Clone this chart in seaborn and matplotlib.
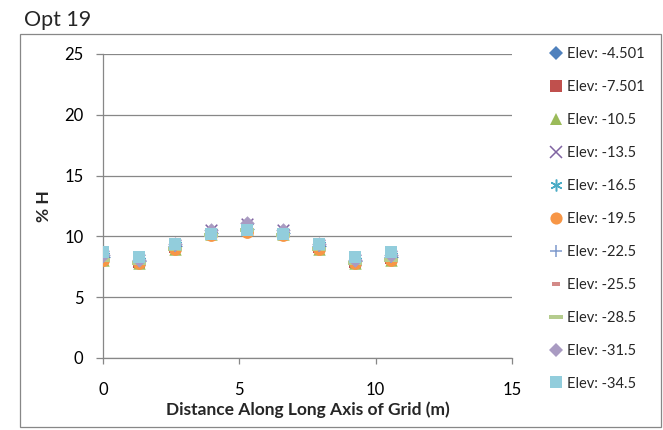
import numpy as np
import pandas as pd
import matplotlib
matplotlib.use("Agg")
import matplotlib.pyplot as plt
import seaborn as sns
from matplotlib.patches import Rectangle
from matplotlib.lines import Line2D

# ---- data ----
distance = [0, 1.32, 2.64, 3.96, 5.28, 6.6, 7.92, 9.24, 10.56]
elev_labels = ["Elev: -4.501", "Elev: -7.501", "Elev: -10.5", "Elev: -13.5",
               "Elev: -16.5", "Elev: -19.5", "Elev: -22.5", "Elev: -25.5",
               "Elev: -28.5", "Elev: -31.5", "Elev: -34.5"]
e_4_501 = [8.3, 8.0, 9.2, 10.3, 10.6, 10.3, 9.2, 8.0, 8.3]
e_7_501 = [8.2, 7.9, 9.1, 10.2, 10.5, 10.2, 9.1, 7.9, 8.2]
e_10_5 = [8.1, 7.8, 9.0, 10.2, 10.6, 10.2, 9.0, 7.8, 8.1]
e_13_5 = [8.4, 8.1, 9.3, 10.5, 11.0, 10.5, 9.3, 8.1, 8.4]
e_16_5 = [8.4, 8.0, 9.3, 10.4, 10.8, 10.4, 9.3, 8.0, 8.4]
e_19_5 = [8.1, 7.8, 9.0, 10.1, 10.4, 10.1, 9.0, 7.8, 8.1]
e_22_5 = [8.3, 8.0, 9.2, 10.3, 10.7, 10.3, 9.2, 8.0, 8.3]
e_25_5 = [8.2, 7.9, 9.1, 10.2, 10.6, 10.2, 9.1, 7.9, 8.2]
e_28_5 = [8.1, 7.8, 9.0, 10.1, 10.5, 10.1, 9.0, 7.8, 8.1]
e_31_5 = [8.5, 8.1, 9.4, 10.5, 11.1, 10.5, 9.4, 8.1, 8.5]
e_34_5 = [8.7, 8.3, 9.4, 10.2, 10.5, 10.2, 9.4, 8.3, 8.7]
series_values = [e_4_501, e_7_501, e_10_5, e_13_5, e_16_5, e_19_5,
                 e_22_5, e_25_5, e_28_5, e_31_5, e_34_5]
x_ticks = [0, 5, 10, 15]
y_ticks = [0, 5, 10, 15, 20, 25]

# ---- styles ----
colors = ["#4F81BD", "#C0504D", "#9BBB59", "#8064A2", "#4BACC6", "#F79646",
          "#7E9ACD", "#D38A88", "#B5CC8E", "#A99BC2", "#92CDDC"]
short_dash = [(-1, -0.4), (1, -0.4), (1, 0.4), (-1, 0.4), (-1, -0.4)]
long_dash = [(-1, -0.25), (1, -0.25), (1, 0.25), (-1, 0.25), (-1, -0.25)]
markers = ["D", "s", "^", "x", (6, 2, 0), "o", "+", short_dash, long_dash, "D", "s"]
sizes = [55, 80, 80, 70, 80, 85, 80, 45, 110, 55, 85]
filled = [True, True, True, False, False, True, False, True, True, True, True]

sns.set_theme(style="white")
plt.rcParams["font.family"] = ["Lato", "DejaVu Sans"]

fig = plt.figure(figsize=(6.63, 4.30), dpi=100)
ax = fig.add_axes([103 / 663, 1 - 358 / 430, (512 - 103) / 663, (358 - 54) / 430])

rows = []
for lab, vals in zip(elev_labels, series_values):
    for xv, yv in zip(distance, vals):
        rows.append({"Elev": lab, "x": xv, "y": yv})
df = pd.DataFrame(rows)

handles = []
for i, lab in enumerate(elev_labels):
    sub = df[df["Elev"] == lab]
    if filled[i]:
        sns.scatterplot(data=sub, x="x", y="y", ax=ax, marker=markers[i],
                        color=colors[i], s=sizes[i], linewidth=0, zorder=3 + i,
                        legend=False)
    else:
        sns.scatterplot(data=sub, x="x", y="y", ax=ax, marker=markers[i],
                        color=colors[i], s=sizes[i], linewidth=1.1, zorder=3 + i,
                        legend=False)
    handles.append(Line2D([], [], linestyle="none", marker=markers[i],
                          color=colors[i], markersize=np.sqrt(sizes[i]) * 0.95,
                          markeredgewidth=(0 if filled[i] else 1.1),
                          markerfacecolor=colors[i], markeredgecolor=colors[i]))

ax.set_xlim(0, 15)
ax.set_ylim(0, 25)
ax.set_xticks(x_ticks)
ax.set_yticks(y_ticks)
ax.set_xticklabels([str(t) for t in x_ticks])
ax.set_yticklabels([str(t) for t in y_ticks])
ax.yaxis.grid(True, color="#878787", linewidth=0.9)
ax.xaxis.grid(False)
for side in ["top", "right"]:
    ax.spines[side].set_visible(False)
for side in ["left", "bottom"]:
    ax.spines[side].set_color("#878787")
    ax.spines[side].set_linewidth(0.9)
ax.tick_params(axis="y", direction="out", length=5, width=0.9, color="#878787",
               pad=9, labelsize=12, labelcolor="#000000", left=True)
ax.tick_params(axis="x", direction="out", length=4, width=0.9, color="#878787",
               pad=13, labelsize=12, labelcolor="#000000", bottom=True)
ax.set_xlabel("Distance Along Long Axis of Grid (m)", fontsize=12.5,
              fontweight="bold", labelpad=3)
ax.set_ylabel("% H", fontsize=12.5, fontweight="bold", labelpad=9)

leg = fig.legend(handles, elev_labels, loc="upper left",
                 bbox_to_anchor=(549 / 663, 1 - 47 / 430), frameon=False,
                 fontsize=10.5, labelspacing=1.30, handlelength=0.9,
                 handletextpad=0.35, borderpad=0, borderaxespad=0)

fig.text(24 / 663, 1 - 20 / 430, "Opt 19", fontsize=15.5, va="center", ha="left")
fig.patches.append(Rectangle((20 / 663, 3 / 430), (661 - 20) / 663, (427 - 35) / 430 + 0.002,
                             transform=fig.transFigure, fill=False,
                             edgecolor="#878787", linewidth=0.9))

fig.savefig("out.png", dpi=100)
